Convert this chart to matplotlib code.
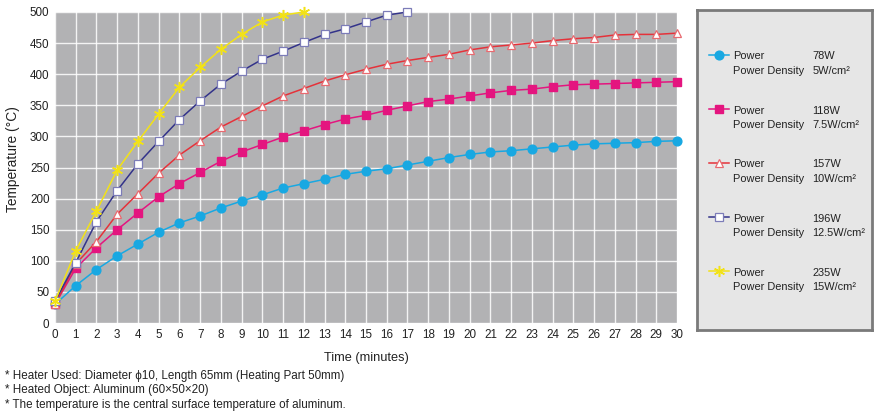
import numpy as np
import matplotlib
matplotlib.use('Agg')
import matplotlib.pyplot as plt

plt.rcParams['font.family'] = ['Liberation Sans', 'DejaVu Sans']

# time axis (minutes)
t = np.arange(0, 31)

# 78W / 5W/cm2
y78 = [30, 60, 86, 108, 127, 146, 161, 172, 185, 196, 206, 217, 224, 231, 239, 244,
       248, 254, 260, 266, 271, 275, 277, 280, 283, 286, 288, 289, 290, 292, 293]
# 118W / 7.5W/cm2
y118 = [30, 88, 121, 150, 177, 203, 224, 242, 260, 275, 287, 299, 309, 319, 328, 334,
        342, 349, 356, 360, 365, 370, 374, 376, 380, 383, 384, 385, 386, 387, 388]
# 157W / 10W/cm2
y157 = [30, 95, 131, 175, 208, 241, 270, 293, 315, 332, 349, 365, 377, 389, 399, 408,
        416, 422, 427, 432, 439, 444, 447, 450, 454, 457, 459, 463, 464, 464, 466]
# 196W / 12.5W/cm2  (stops at 17 min)
y196 = [35, 97, 163, 213, 256, 292, 327, 357, 384, 405, 424, 437, 451, 464, 473, 484,
        495, 500]
# 235W / 15W/cm2  (stops at 12 min)
y235 = [35, 116, 180, 246, 292, 336, 379, 411, 440, 464, 484, 495, 500]

powers = ['78W', '118W', '157W', '196W', '235W']
densities = ['5W/cm²', '7.5W/cm²', '10W/cm²', '12.5W/cm²', '15W/cm²']

series = [y78, y118, y157, y196, y235]
styles = [
    dict(color='#18a8e2', marker='o', markersize=6.3, markerfacecolor='#18a8e2',
         markeredgecolor='#18a8e2', lw=1.1),
    dict(color='#e4157f', marker='s', markersize=5.4, markerfacecolor='#e4157f',
         markeredgecolor='#e4157f', lw=1.1),
    dict(color='#e5323a', marker='^', markersize=6.3, markerfacecolor='white',
         markeredgecolor='#e86a70', markeredgewidth=0.9, lw=1.1),
    dict(color='#33338a', marker='s', markersize=6.0, markerfacecolor='white',
         markeredgecolor='#7c7cb8', markeredgewidth=0.9, lw=1.1),
    dict(color='#f2e216', marker=(6, 2, 0), markersize=8, markerfacecolor='#f2e216',
         markeredgecolor='#f2e216', markeredgewidth=1.1, lw=1.1),
]

fig = plt.figure(figsize=(8.8, 4.16), dpi=100)
ax = fig.add_axes([55/880, 93/416, 622/880, 311/416])
ax.set_facecolor('#b2b2b4')

for ys, st in zip(series, styles):
    ax.plot(t[:len(ys)], ys, clip_on=False, zorder=3, **st)

ax.set_xlim(0, 30)
ax.set_ylim(0, 500)
ax.set_xticks(np.arange(0, 31, 1))
ax.set_yticks(np.arange(0, 501, 50))
ax.grid(True, color='white', lw=1.0, alpha=0.85)
ax.set_axisbelow(True)
for s in ax.spines.values():
    s.set_visible(False)
ax.tick_params(length=0, labelsize=8.4, colors='#222222', pad=4)
ax.set_xlabel('Time (minutes)', fontsize=9.2, labelpad=8, color='#222222')
ax.set_ylabel('Temperature (°C)', fontsize=9.9, color='#222222')
ax.yaxis.set_label_coords(-0.057, 0.527)

# legend box
lax = fig.add_axes([697/880, 86/416, 175/880, 320/416])
lax.set_facecolor('#e6e6e6')
lax.set_xlim(0, 175)
lax.set_ylim(320, 0)
lax.set_xticks([])
lax.set_yticks([])
for s in lax.spines.values():
    s.set_color('#7a7a7a')
    s.set_linewidth(2)

for i, st in enumerate(styles):
    yy = 45 + 54 * i
    lax.plot([12, 32], [yy, yy], color=st['color'], lw=st['lw'])
    lax.plot([22], [yy], linestyle='none', **{k: v for k, v in st.items() if k != 'lw'})
    lax.text(36, yy + 1.5, 'Power', fontsize=7.9, va='center', color='#222222')
    lax.text(36, yy + 16, 'Power Density', fontsize=7.9, va='center', color='#222222')
    lax.text(115.5, yy + 1.5, powers[i], fontsize=7.9, va='center', color='#222222')
    lax.text(115.5, yy + 16, densities[i], fontsize=7.9, va='center', color='#222222')

notes = ['* Heater Used: Diameter ϕ10, Length 65mm (Heating Part 50mm)',
         '* Heated Object: Aluminum (60×50×20)',
         '* The temperature is the central surface temperature of aluminum.']
for i, n in enumerate(notes):
    fig.text(5/880, 1 - (376 + 14.5 * i)/416, n, fontsize=8.4, va='center',
             color='#222222')

fig.savefig('out.png', dpi=100)
